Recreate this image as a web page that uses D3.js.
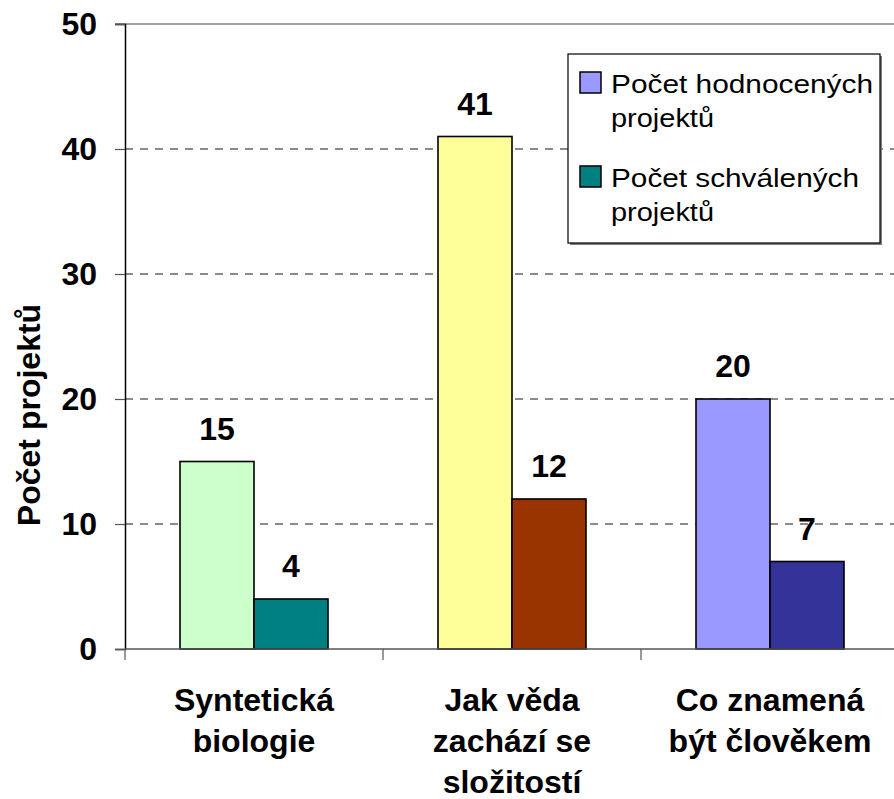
<!DOCTYPE html>
<html>
<head>
<meta charset="utf-8">
<script src="https://cdn.jsdelivr.net/npm/d3@7"></script>
<style>
  html, body { margin: 0; padding: 0; background: #fff; }
  svg { display: block; font-family: "Liberation Sans", Arial, sans-serif; }
</style>
</head>
<body>
<svg id="chart" width="894" height="799"></svg>
<script>
// ---- data ----
const categories = [
  ["Syntetická", "biologie"],
  ["Jak věda", "zachází se", "složitostí"],
  ["Co znamená", "být člověkem"]
];
const seriesNames = [["Počet hodnocených", "projektů"], ["Počet schválených", "projektů"]];
const hodnocene = [15, 41, 20];
const schvalene = [4, 12, 7];
const yTicks = [0, 10, 20, 30, 40, 50];
const barColors = [
  ["#CCFFCC", "#008080"],
  ["#FFFF99", "#993300"],
  ["#9999FF", "#333399"]
];
const legendColors = ["#9999FF", "#008080"];
const yTitle = "Počet projektů";

// ---- layout ----
const svg = d3.select("#chart");
const pLeft = 125, pRight = 899, pTop = 24, pBottom = 649;

const x0 = d3.scaleBand().domain(d3.range(categories.length)).range([pLeft, pRight]).paddingInner(0).paddingOuter(0);
const bw = x0.bandwidth();
const groupW = 148;
const x1 = d3.scaleBand().domain([0, 1]).range([(bw - groupW) / 2, (bw + groupW) / 2]);
const y = d3.scaleLinear().domain([0, 50]).range([pBottom, pTop]);

// gridlines
svg.append("g").selectAll("line").data(yTicks.filter(t => t > 0 && t < 50)).join("line")
  .attr("x1", pLeft).attr("x2", pRight)
  .attr("y1", d => y(d)).attr("y2", d => y(d))
  .attr("stroke", "#666").attr("stroke-width", 1.3)
  .attr("stroke-dasharray", "8,7");
// top border line
svg.append("line").attr("x1", pLeft - 10).attr("x2", pRight).attr("y1", y(50)).attr("y2", y(50))
  .attr("stroke", "#808080").attr("stroke-width", 1.5);

// y axis
const yAxis = d3.axisLeft(y).tickValues(yTicks).tickSize(10).tickPadding(18);
const gy = svg.append("g").attr("transform", `translate(${pLeft},0)`).call(yAxis);
gy.select(".domain").attr("stroke", "#000").attr("stroke-width", 1.5);
gy.selectAll(".tick line").attr("stroke", "#555").attr("stroke-width", 1.2);
gy.selectAll(".tick text").attr("font-size", 32).attr("font-weight", "bold")
  .attr("font-family", "'Liberation Sans', Arial, sans-serif").attr("fill", "#000");

// bars
const data = categories.map((c, i) => ({i, vals: [hodnocene[i], schvalene[i]]}));
const groups = svg.append("g").selectAll("g").data(data).join("g")
  .attr("transform", d => `translate(${x0(d.i)},0)`);
groups.selectAll("rect").data(d => d.vals.map((v, s) => ({v, s, i: d.i}))).join("rect")
  .attr("x", d => x1(d.s)).attr("width", x1.bandwidth())
  .attr("y", d => y(d.v)).attr("height", d => y(0) - y(d.v))
  .attr("fill", d => barColors[d.i][d.s])
  .attr("stroke", "#000").attr("stroke-width", 1.6);
groups.selectAll("text.val").data(d => d.vals.map((v, s) => ({v, s, i: d.i}))).join("text")
  .attr("class", "val")
  .attr("x", d => x1(d.s) + x1.bandwidth() / 2)
  .attr("y", d => y(d.v) - 22)
  .attr("text-anchor", "middle").attr("font-size", 32).attr("font-weight", "bold")
  .text(d => d.v);

// x axis
const xAxisLine = svg.append("g");
xAxisLine.append("line").attr("x1", pLeft).attr("x2", pRight).attr("y1", pBottom).attr("y2", pBottom)
  .attr("stroke", "#555").attr("stroke-width", 1.5);
xAxisLine.selectAll("line.tk").data(d3.range(categories.length + 1)).join("line")
  .attr("class", "tk")
  .attr("x1", d => pLeft + d * bw).attr("x2", d => pLeft + d * bw)
  .attr("y1", pBottom).attr("y2", pBottom + 11)
  .attr("stroke", "#555").attr("stroke-width", 1.2);

// category labels
const cat = svg.append("g").selectAll("text").data(categories).join("text")
  .attr("text-anchor", "middle").attr("font-size", 32).attr("font-weight", "bold");
cat.each(function(lines, i) {
  d3.select(this).selectAll("tspan").data(lines).join("tspan")
    .attr("x", x0(i) + bw / 2)
    .attr("y", (d, k) => 711 + k * 41)
    .text(d => d);
});

// y title
svg.append("text")
  .attr("transform", "translate(40,415) rotate(-90)")
  .attr("text-anchor", "middle").attr("font-size", 32).attr("font-weight", "bold")
  .text(yTitle);

// legend
const lg = svg.append("g");
lg.append("rect").attr("x", 570).attr("y", 56).attr("width", 312).attr("height", 189).attr("fill", "#808080");
lg.append("rect").attr("x", 568).attr("y", 54).attr("width", 312).attr("height", 189)
  .attr("fill", "#fff").attr("stroke", "#000").attr("stroke-width", 1.2);
const legY = [72, 166];
const lineLens = [[262, 103], [248, 103]];
seriesNames.forEach((lines, s) => {
  lg.append("rect").attr("x", 580).attr("y", legY[s]).attr("width", 21).attr("height", 21)
    .attr("fill", legendColors[s]).attr("stroke", "#000").attr("stroke-width", 1.5);
  lines.forEach((t, k) => {
    lg.append("text").attr("x", 611).attr("y", legY[s] + 21 + k * 34)
      .attr("font-size", 26).attr("textLength", lineLens[s][k]).attr("lengthAdjust", "spacingAndGlyphs")
      .text(t);
  });
});
</script>
</body>
</html>
